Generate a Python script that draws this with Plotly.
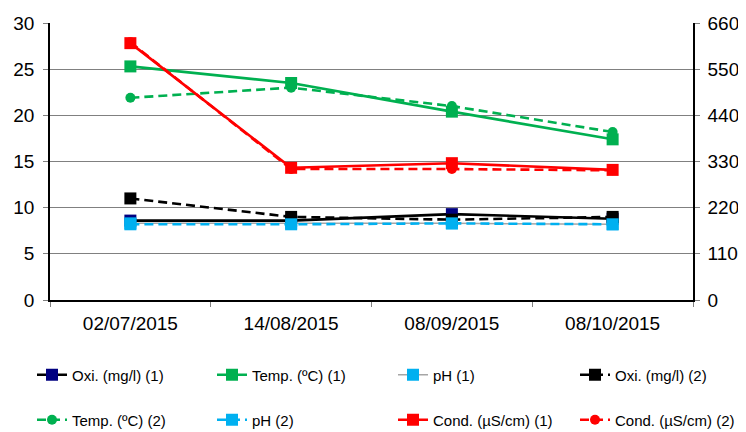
import plotly.graph_objects as go

dates = ["02/07/2015", "14/08/2015", "08/09/2015", "08/10/2015"]

oxi1 = [8.6, 8.6, 9.3, 8.8]
temp1 = [25.3, 23.5, 20.4, 17.4]
ph1 = [8.3, 8.3, 8.3, 8.2]
oxi2 = [11.0, 9.0, 8.7, 9.0]
temp2 = [21.9, 23.0, 21.0, 18.2]
ph2 = [8.2, 8.2, 8.3, 8.2]
cond1 = [612, 315, 326, 310]
cond2 = [614, 312, 312, 309]

left_ticks = [0, 5, 10, 15, 20, 25, 30]
right_ticks = [0, 110, 220, 330, 440, 550, 660]

NAVY = "#000080"
GREEN = "#00B050"
LBLUE = "#00B0F0"
RED = "#FF0000"
BLACK = "#000000"
GRAY = "#A6A6A6"

FONT = "Liberation Sans, Arial, sans-serif"
DASH = "9px,5px"

# page has an 8px body margin; figure is sized to fill the rest
W, H = 738, 424
OFF = 8

fig = go.Figure()

# legend slots: (column left px, row centre px) in page pixels
col_x = [32, 212, 393, 575]
row_y = [375, 420]

legends = {}

def add(idx, name, y, line_color, marker_color, symbol, dash, yaxis="y", width=2.6, msize=12):
    lname = "legend" if idx == 0 else f"legend{idx + 1}"
    cx = col_x[idx % 4]
    ry = row_y[idx // 4]
    legends[lname] = dict(
        xref="container", yref="container",
        x=(cx - OFF) / W, y=1 - (ry - OFF) / H,
        xanchor="left", yanchor="middle", orientation="h",
        itemwidth=30, font=dict(family=FONT, size=15, color="black"),
        bgcolor="rgba(0,0,0,0)", itemclick=False,
    )
    fig.add_trace(go.Scatter(
        x=dates, y=y, name=name, mode="lines+markers", yaxis=yaxis,
        line=dict(color=line_color, width=width, dash=dash),
        marker=dict(color=marker_color, symbol=symbol, size=msize, line=dict(width=0)),
        legend=lname,
    ))

add(0, "Oxi. (mg/l) (1)", oxi1, BLACK, NAVY, "square", "solid")
add(1, "Temp. (ºC) (1)", temp1, GREEN, GREEN, "square", "solid")
add(2, "pH (1)", ph1, GRAY, LBLUE, "square", "solid", width=1.5)
add(3, "Oxi. (mg/l) (2)", oxi2, BLACK, BLACK, "square", DASH)
add(4, "Temp. (ºC) (2)", temp2, GREEN, GREEN, "circle", DASH, msize=10)
add(5, "pH (2)", ph2, LBLUE, LBLUE, "square", DASH)
add(6, "Cond. (µS/cm) (1)", cond1, RED, RED, "square", "solid", yaxis="y2")
add(7, "Cond. (µS/cm) (2)", cond2, RED, RED, "circle", DASH, yaxis="y2", msize=10)

fig.update_layout(
    width=W, height=H,
    margin=dict(l=50 - OFF, r=W - (693 - OFF), t=23 - OFF, b=H - (300 - OFF), autoexpand=False),
    paper_bgcolor="white", plot_bgcolor="white",
    font=dict(family=FONT, color="black"),
    showlegend=True,
    **legends,
    xaxis=dict(
        type="category", range=[-0.5, 3.5], tickson="boundaries", ticks="outside", ticklen=5,
        tickcolor="#808080", showline=True, linecolor="black", linewidth=1.5,
        mirror=False, showgrid=False, tickfont=dict(size=19, family=FONT),
        ticklabelstandoff=5,
    ),
    yaxis=dict(
        range=[0, 30], tickvals=left_ticks, ticks="outside", ticklen=5,
        tickcolor="#808080", showline=True, linecolor="black", linewidth=1.5,
        showgrid=True, gridcolor="#808080", gridwidth=1, zeroline=False,
        tickfont=dict(size=19, family=FONT), ticklabelstandoff=5,
    ),
    yaxis2=dict(
        range=[0, 660], tickvals=right_ticks, overlaying="y", side="right",
        ticks="outside", ticklen=5, tickcolor="#808080", showline=True,
        linecolor="black", linewidth=1.5, showgrid=False, zeroline=False,
        tickfont=dict(size=19, family=FONT), ticklabelstandoff=4,
    ),
)

fig.write_html("out.html")
